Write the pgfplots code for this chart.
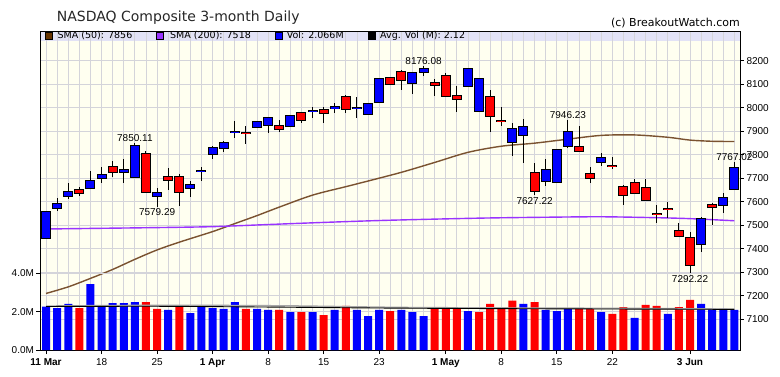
\documentclass[border=0pt]{standalone}
\usepackage{pgfplots}
\pgfplotsset{compat=1.18}
\usepackage{pgfplotstable}
\usepackage{fontspec}
\setmainfont{Liberation Sans}
\newfontfamily\dejavu{DejaVu Sans}
\definecolor{bgcol}{HTML}{FFFFF0}
\definecolor{bandcol}{HTML}{E2E2F6}
\definecolor{gridcol}{HTML}{D4D4DA}
\definecolor{upcol}{HTML}{0000FF}
\definecolor{dncol}{HTML}{FF0000}
\definecolor{smaA}{HTML}{7A5230}
\definecolor{smaAleg}{HTML}{663300}
\definecolor{smaB}{HTML}{9933FF}

% candles closing above their open (blue bodies)
\pgfplotstableread{
i O H L C
0 7444 7560 7442 7558
1 7575 7614 7562 7591
2 7623 7681 7610 7643
4 7660 7730 7653 7689
5 7699 7746 7681 7714
7 7725 7780 7678 7733
8 7706 7850.11 7700 7839
10 7623 7657 7579.29 7638
13 7660 7689 7621 7669
14 7731 7749 7688 7732
15 7801 7837 7780 7829
16 7827 7859 7813 7849
17 7896 7943 7872 7897
19 7916 7942 7912 7939
20 7925 7961 7893 7954
22 7923 7967 7918 7964
24 7984 8001 7954 7985
26 8000 8021 7978 8001
28 7998 8046 7954 7999
29 7971 8018 7968 8015
30 8025 8123 8025 8120
33 8103 8153 8059 8146
34 8150 8176.08 8135 8163
38 8093 8167 8087 8164
39 7985 8128 7985 8124
42 7855 7933 7795 7910
43 7883 7951 7763 7917
45 7689 7780 7667 7735
46 7686 7823 7681 7822
47 7837 7946.23 7830 7898
50 7767 7806 7753 7786
59 7419 7536 7387 7527
61 7586 7638 7551 7615
62 7654 7767.02 7650 7742
}\upc

% candles closing below their open (red bodies)
\pgfplotstableread{
i O H L C
3 7650 7664 7624 7636
6 7749 7773 7704 7725
9 7801 7817 7641 7643
11 7704 7742 7650 7692
12 7704 7718 7583 7643
18 7893 7922 7845 7892
21 7923 7946 7897 7909
23 7976 7978 7933 7949
25 7988 8001 7936 7976
27 8045 8053 7976 7996
31 8124 8128 8100 8102
32 8150 8160 8076 8119
35 8107 8124 8050 8095
36 8133 8146 8044 8050
37 8048 8093 7980 8037
40 8044 8076 7898 7964
41 7944 8004 7923 7943
44 7721 7763 7627.22 7647
48 7831 7923 7813 7816
49 7716 7749 7681 7702
51 7752 7791 7740 7751
52 7664 7671 7586 7628
53 7678 7696 7636 7637
54 7657 7696 7603 7607
55 7548 7586 7508 7547
56 7569 7597 7529 7568
57 7475 7508 7450 7453
58 7444 7471 7292.22 7333
60 7587 7596 7501 7576
}\dnc

% volume (millions), up days
\pgfplotstableread{
i V
0 2.26
1 2.19
2 2.40
4 3.44
5 2.30
6 2.45
7 2.45
8 2.50
11 2.09
13 1.93
14 2.30
15 2.19
16 2.14
17 2.50
19 2.14
20 2.09
22 1.98
24 1.98
26 2.09
28 2.09
29 1.77
30 2.09
32 2.09
33 1.98
34 1.77
38 2.03
43 2.40
45 2.09
46 2.03
47 2.19
50 1.98
53 1.67
56 1.88
59 2.40
60 2.14
61 2.14
62 2.09
}\volup

% volume (millions), down days
\pgfplotstableread{
i V
3 2.19
9 2.50
10 2.14
12 2.24
18 2.14
21 2.09
23 1.98
25 1.82
27 2.30
31 2.03
35 2.14
36 2.24
37 2.21
39 1.98
40 2.40
41 2.21
42 2.57
44 2.50
48 2.14
49 2.14
51 1.88
52 2.24
54 2.35
55 2.30
57 2.24
58 2.61
}\voldn

\pgfplotstableread{
i v
0 7210
2 7238
4 7274
6 7312
8 7355
10 7395
12 7428
15 7473
17 7507
19 7541
21 7577
24 7628
27 7664
29 7688
32 7725
35 7767
38 7810
41 7836
44 7849
47 7866
50 7882
53 7884
56 7874
58 7862
60 7857
62 7856
}\smafifty

\pgfplotstableread{
i v
0 7484
5 7487
10 7490
15 7494
20 7503
25 7512
30 7520
35 7526
40 7531
45 7534
50 7536
55 7532
58 7528
62 7519
}\smatwohundred

\pgfplotstableread{
i H lab
8 7850.11 7850.11
34 8176.08 8176.08
47 7946.23 7946.23
62 7767.02 7767.02
}\highlabels

\pgfplotstableread{
i L lab
10 7579.29 7579.29
44 7627.22 7627.22
58 7292.22 7292.22
}\lowlabels

\newcommand{\tf}{\fontsize{10}{12}\selectfont}

\pgfplotsset{
  wick/.style={forget plot, draw=none, mark=none,
    error bars/.cd, y dir=both, y explicit, error mark=none,
    error bar style={draw=black, line width=1pt}},
  body/.style={forget plot, draw=none, mark=none,
    error bars/.cd, y dir=both, y explicit, error mark=none,
    error bar style={draw=#1, line width=8pt}},
  outline/.style={forget plot, draw=none, mark=none,
    error bars/.cd, y dir=both, y explicit, error mark=none,
    error bar style={draw=black, line width=10pt}},
}

\begin{document}
\begin{tikzpicture}
\useasboundingbox (0pt,0pt) rectangle (780pt,376pt);
\fill[bgcol] (40.5pt,26pt) rectangle (740pt,345pt);
\fill[bandcol] (40.5pt,335pt) rectangle (740pt,345pt);
% ---------- price axis ----------
\begin{axis}[
  at={(40.5pt,26pt)}, anchor=south west,
  scale only axis, width=699.5pt, height=319pt,
  xmin=-0.5, xmax=62.5, ymin=6969.5, ymax=8325.9,
  axis line style={line width=0.8pt},
  tick style={black, line width=0.8pt},
  tick align=outside, major tick length=4pt, minor tick length=0pt,
  xtick pos=left, ytick pos=right, yticklabel pos=right,
  xtick={0,5,10,15,20,25,30,36,41,46,51,58},
  xticklabels={\textbf{11 Mar},18,25,\textbf{1 Apr},8,15,23,\textbf{1 May},8,15,22,\textbf{3 Jun}},
  minor xtick={0,...,62},
  ytick={7100,7200,7300,7400,7500,7600,7700,7800,7900,8000,8100,8200},
  scaled y ticks=false,
  xticklabel style={font=\tf, yshift=-1pt},
  yticklabel style={/pgf/number format/1000 sep={}, /pgf/number format/assume math mode=true, font=\tf, xshift=-1pt},
  xmajorgrids, xminorgrids, ymajorgrids,
  grid style={gridcol, line width=0.8pt},
  minor grid style={gridcol, line width=0.8pt},
]
\addplot[smaA, line width=1.4pt, smooth, forget plot] table[x=i, y=v] {\smafifty};
\addplot[smaB, line width=1.4pt, smooth, forget plot] table[x=i, y=v] {\smatwohundred};
% wicks
\addplot[wick] table[x=i, y expr={(\thisrow{H}+\thisrow{L})/2}, y error expr={(\thisrow{H}-\thisrow{L})/2}] {\upc};
\addplot[wick] table[x=i, y expr={(\thisrow{H}+\thisrow{L})/2}, y error expr={(\thisrow{H}-\thisrow{L})/2}] {\dnc};
% body outlines
\addplot[outline] table[x=i, y expr={(\thisrow{O}+\thisrow{C})/2}, y error expr={abs(\thisrow{C}-\thisrow{O})/2+4.25}] {\upc};
\addplot[outline] table[x=i, y expr={(\thisrow{O}+\thisrow{C})/2}, y error expr={abs(\thisrow{C}-\thisrow{O})/2+4.25}] {\dnc};
% bodies
\addplot[body=upcol] table[x=i, y expr={(\thisrow{O}+\thisrow{C})/2}, y error expr={abs(\thisrow{C}-\thisrow{O})/2}] {\upc};
\addplot[body=dncol] table[x=i, y expr={(\thisrow{O}+\thisrow{C})/2}, y error expr={abs(\thisrow{C}-\thisrow{O})/2}] {\dnc};
% annotations
\addplot[forget plot, draw=none, mark=none, nodes near coords, point meta=explicit symbolic,
  every node near coord/.append style={anchor=south, font=\tf, inner sep=1.5pt, text=black}]
  table[x=i, y=H, meta=lab] {\highlabels};
\addplot[forget plot, draw=none, mark=none, nodes near coords, point meta=explicit symbolic,
  every node near coord/.append style={anchor=north, font=\tf, inner sep=1.5pt, text=black}]
  table[x=i, y=L, meta=lab] {\lowlabels};
\end{axis}
% ---------- volume axis ----------
\begin{axis}[
  at={(40.5pt,26pt)}, anchor=south west,
  scale only axis, width=699.5pt, height=319pt,
  xmin=-0.5, xmax=62.5, ymin=0, ymax=16.64,
  axis line style={line width=0.8pt},
  tick style={black, line width=0.8pt},
  tick align=outside, major tick length=4pt,
  xtick=\empty, ytick pos=left,
  ytick={0,2,4}, yticklabels={0.0M,2.0M,4.0M},
  ymajorgrids,
  grid style={gridcol, line width=0.8pt},
  yticklabel style={font=\tf, xshift=1pt},
]
\addplot[ybar, bar width=8pt, bar shift=0pt, fill=upcol, draw=none, forget plot] table[x=i, y=V] {\volup};
\addplot[ybar, bar width=8pt, bar shift=0pt, fill=dncol, draw=none, forget plot] table[x=i, y=V] {\voldn};
\addplot[gray!70, line width=1.5pt, smooth, forget plot] coordinates {(0,2.29) (4,2.31) (12,2.33) (22,2.30) (32,2.22) (42,2.19) (52,2.17) (62,2.13)};
\addplot[black, line width=0.9pt, smooth, forget plot] coordinates {(0,2.27) (10,2.28) (20,2.24) (30,2.19) (40,2.16) (50,2.14) (62,2.12)};
\end{axis}
% ---------- title, credit, legend ----------
\node[anchor=base west, inner sep=0, font=\dejavu\fontsize{14}{16}\selectfont, text=black!85] at (56.7pt,355pt) {NASDAQ Composite 3-month Daily};
\node[anchor=base east, inner sep=0, font=\dejavu\fontsize{11}{13}\selectfont] at (740pt,349.3pt) {(c) BreakoutWatch.com};
\fill[smaAleg, draw=black, line width=0.6pt] (45pt,337pt) rectangle (52pt,344pt);
\node[anchor=base west, inner sep=0, font=\dejavu\fontsize{9.5}{11}\selectfont] at (57.5pt,337.2pt) {SMA (50): 7856};
\fill[smaB, draw=black, line width=0.6pt] (156.7pt,337pt) rectangle (163.7pt,344pt);
\node[anchor=base west, inner sep=0, font=\dejavu\fontsize{9.5}{11}\selectfont] at (170pt,337.2pt) {SMA (200): 7518};
\fill[upcol, draw=black, line width=0.6pt] (275pt,337pt) rectangle (282pt,344pt);
\node[anchor=base west, inner sep=0, font=\dejavu\fontsize{9.5}{11}\selectfont] at (286.7pt,337.2pt) {Vol: 2.066M};
\fill[black, draw=black, line width=0.6pt] (368pt,337pt) rectangle (375pt,344pt);
\node[anchor=base west, inner sep=0, font=\dejavu\fontsize{9.5}{11}\selectfont] at (380pt,337.2pt) {Avg. Vol (M): 2.12};
\end{tikzpicture}
\end{document}
